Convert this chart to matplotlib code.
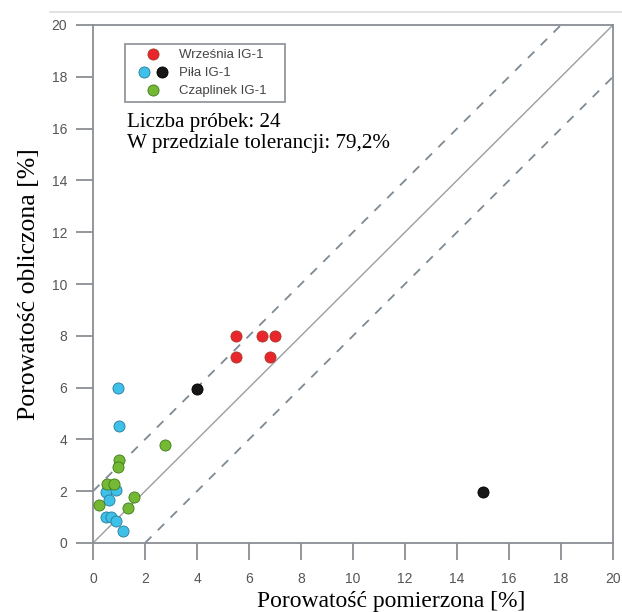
import matplotlib
matplotlib.use("Agg")
import matplotlib.pyplot as plt
from matplotlib.legend_handler import HandlerTuple
from matplotlib.lines import Line2D
import numpy as np

# Data (measured vs calculated porosity, %)
wrz_x = [5.5, 6.5, 7.0, 5.5, 6.8]
wrz_y = [8.0, 8.0, 8.0, 7.2, 7.2]

pila_blue_x = [0.95, 1.0, 0.5, 0.9, 0.6, 0.5, 0.7, 0.9, 1.15]
pila_blue_y = [6.0, 4.5, 1.95, 2.05, 1.65, 1.0, 1.0, 0.85, 0.48]

pila_black_x = [4.0, 15.0]
pila_black_y = [5.95, 1.97]

czap_x = [2.78, 1.0, 0.96, 0.55, 0.8, 0.23, 1.58, 1.35]
czap_y = [3.8, 3.22, 2.95, 2.27, 2.27, 1.45, 1.77, 1.37]

ticks = [0, 2, 4, 6, 8, 10, 12, 14, 16, 18, 20]
tolerance = 2
legend_labels = ["Września IG-1", "Piła IG-1", "Czaplinek IG-1"]

gray = "#8a8f94"
fig = plt.figure(figsize=(6.22, 6.12), dpi=100)
ax = fig.add_axes([93/622, 1 - 543/612, (613-93)/622, (543-25)/612])

# faint page line at top
fig.add_artist(Line2D([50/622, 1.0], [1 - 12/612, 1 - 12/612], color="#dcdcdc", lw=1.2,
                      transform=fig.transFigure))

diag = np.array([0, 20])
ax.plot(diag, diag, color="#9a9ea2", lw=1.0, zorder=1)
ax.plot([0, 20 - tolerance], [tolerance, 20], color="#7d8a94", lw=1.3, ls=(0, (5, 5)), zorder=1)
ax.plot([tolerance, 20], [0, 20 - tolerance], color="#7d8a94", lw=1.3, ls=(0, (5, 5)), zorder=1)

ms = 64
h_red = ax.scatter(wrz_x, wrz_y, s=ms, c="#e8262b", edgecolors="#a83a2a", linewidths=0.6, zorder=3)
h_blue = ax.scatter(pila_blue_x, pila_blue_y, s=ms, c="#3ec0e8", edgecolors="#2a7c98", linewidths=0.6, zorder=3)
h_black = ax.scatter(pila_black_x, pila_black_y, s=ms, c="#161616", edgecolors="#000000", linewidths=0.6, zorder=3)
h_green = ax.scatter(czap_x, czap_y, s=ms, c="#74b833", edgecolors="#3f7a1e", linewidths=0.6, zorder=3)

ax.set_xlim(0, 20)
ax.set_ylim(0, 20)
ax.set_xticks(ticks)
ax.set_yticks(ticks)
for s in ax.spines.values():
    s.set_color(gray)
    s.set_linewidth(1.3)
ax.tick_params(direction="out", length=12.2, width=1.3, color=gray, labelcolor="#555555",
               labelsize=10)
ax.tick_params(axis="x", pad=8.5)
ax.tick_params(axis="y", pad=6.5)
for lab in ax.get_xticklabels() + ax.get_yticklabels():
    lab.set_family("Liberation Sans")

ax.set_xlabel("Porowatość pomierzona [%]", family="Liberation Serif", fontsize=17)
ax.set_ylabel("Porowatość obliczona [%]", family="Liberation Serif", fontsize=18.5)
ax.xaxis.set_label_coords((391 - 93) / 520, -(591 - 543) / 518)
ax.yaxis.set_label_coords((40 - 93) / 520, 0.5)

labels_padded = legend_labels[:2] + [legend_labels[2] + "    "]
leg = ax.legend([h_red, (h_blue, h_black), h_green], labels_padded,
                handler_map={tuple: HandlerTuple(ndivide=None, pad=-0.67)},
                loc="upper left", bbox_to_anchor=(32.5/520, 1 - 19/518),
                prop={"family": "Liberation Sans", "size": 9.5},
                frameon=True, fancybox=False, edgecolor=gray, framealpha=1,
                handlelength=3.4, handletextpad=0.27, labelspacing=0.44,
                borderpad=0.35, borderaxespad=0)
leg.get_frame().set_linewidth(1.2)
for t in leg.get_texts():
    t.set_color("#444444")

ax.text(34/520, 1 - 102/518, "Liczba próbek: 24", transform=ax.transAxes,
        family="Liberation Serif", fontsize=15.2, va="baseline")
ax.text(34/520, 1 - 123/518, "W przedziale tolerancji: 79,2%", transform=ax.transAxes,
        family="Liberation Serif", fontsize=15.2, va="baseline")

fig.savefig("out.png", dpi=100)
